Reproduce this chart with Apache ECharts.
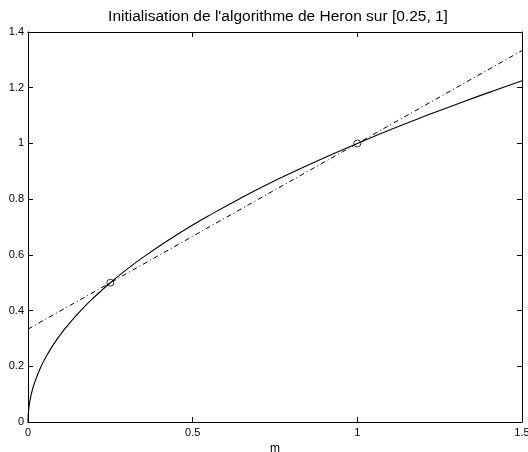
<!DOCTYPE html>
<html><head><meta charset="utf-8">
<script src="https://cdn.jsdelivr.net/npm/echarts@6/dist/echarts.min.js"></script>
<style>html,body{margin:0;padding:0;background:#fff}#c{width:528px;height:452px}</style>
</head><body><div id="c"></div>
<script>
// Data
var curveM = [0, 0.0025, 0.01, 0.02, 0.04, 0.06, 0.09, 0.12, 0.16, 0.2, 0.25, 0.3, 0.36, 0.42, 0.49, 0.56, 0.64, 0.72, 0.81, 0.9, 1.0, 1.1, 1.21, 1.32, 1.44, 1.5];
var curveY = [0, 0.05, 0.1, 0.141, 0.2, 0.245, 0.3, 0.346, 0.4, 0.447, 0.5, 0.548, 0.6, 0.648, 0.7, 0.748, 0.8, 0.849, 0.9, 0.949, 1.0, 1.049, 1.1, 1.149, 1.2, 1.225];
var lineM = [0, 1.5];
var lineY = [0.3333, 1.3333];
var pointM = [0.25, 1];
var pointY = [0.5, 1];
var titleText = "Initialisation de l'algorithme de Heron sur [0.25, 1]";
var xName = "m";

function zip(a, b) { return a.map(function (v, i) { return [v, b[i]]; }); }

var font = 'Liberation Sans, Arial, Helvetica, sans-serif';
var axisCommon = {
  axisLine: { show: true, onZero: false, lineStyle: { color: '#000', width: 1 } },
  axisTick: { show: true, inside: true, length: 5, lineStyle: { color: '#000' } },
  splitLine: { show: false }
};

var chart = echarts.init(document.getElementById('c'), null, { renderer: 'canvas' });
chart.setOption({
  backgroundColor: '#fff',
  animation: false,
  title: {
    text: titleText, left: 273, textAlign: 'center', top: 4,
    textStyle: { fontFamily: font, fontSize: 15.5, fontWeight: 'normal', color: '#000' }
  },
  grid: { left: 28, right: 6, top: 32, bottom: 30, containLabel: false, outerBoundsMode: 'none' },
  xAxis: [
    Object.assign({
      type: 'value', min: 0, max: 1.5, interval: 0.5, position: 'bottom',
      name: xName, nameLocation: 'middle', nameGap: 19,
      nameTextStyle: { fontFamily: font, fontSize: 12, color: '#000' },
      axisLabel: { fontFamily: font, fontSize: 11, color: '#000', margin: 5,
        formatter: function (v) { return String(v); } }
    }, axisCommon),
    Object.assign({
      type: 'value', min: 0, max: 1.5, interval: 0.5, position: 'top',
      axisLabel: { show: false }
    }, axisCommon)
  ],
  yAxis: [
    Object.assign({
      type: 'value', min: 0, max: 1.4, interval: 0.2, position: 'left',
      axisLabel: { fontFamily: font, fontSize: 11, color: '#000', margin: 4,
        formatter: function (v) { return String(Math.round(v * 10) / 10); } }
    }, axisCommon),
    Object.assign({
      type: 'value', min: 0, max: 1.4, interval: 0.2, position: 'right',
      axisLabel: { show: false }
    }, axisCommon)
  ],
  series: [
    {
      type: 'line', data: zip(curveM, curveY), smooth: true, symbol: 'none',
      lineStyle: { color: '#000', width: 1.1 }
    },
    {
      type: 'line', data: zip(lineM, lineY), symbol: 'none',
      lineStyle: { color: '#000', width: 1, type: [5, 3, 1, 3] }
    },
    {
      type: 'scatter', data: zip(pointM, pointY), symbol: 'circle', symbolSize: 7,
      itemStyle: { color: 'rgba(0,0,0,0)', borderColor: '#000', borderWidth: 1 }
    }
  ]
});
</script></body></html>
